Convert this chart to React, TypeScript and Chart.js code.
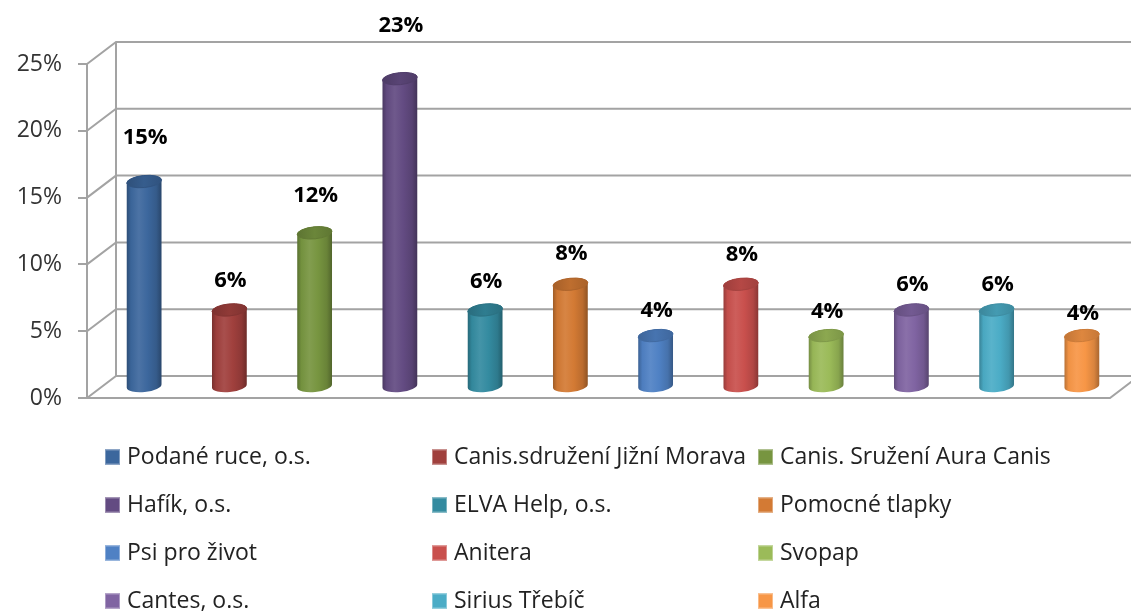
import React, { useEffect, useRef } from 'react';
import { Chart, registerables } from 'chart.js';

Chart.register(...registerables);

const categories = [
  'Podané ruce, o.s.',
  'Canis.sdružení Jižní Morava',
  'Canis. Sružení Aura Canis',
  'Hafík, o.s.',
  'ELVA Help, o.s.',
  'Pomocné tlapky',
  'Psi pro život',
  'Anitera',
  'Svopap',
  'Cantes, o.s.',
  'Sirius Třebíč',
  'Alfa',
];

const values = [15.38, 5.77, 11.54, 23.08, 5.77, 7.69, 3.85, 7.69, 3.85, 5.77, 5.77, 3.85];
const valueLabels = ['15%', '6%', '12%', '23%', '6%', '8%', '4%', '8%', '4%', '6%', '6%', '4%'];
const colors = [
  '#3C679D', '#A0403D', '#779540', '#634B82', '#348BA0', '#D37A34',
  '#4F81C4', '#C9504D', '#9BBB59', '#8064A2', '#4BACC6', '#F79646',
];
const yTickValues = [0, 5, 10, 15, 20, 25];

const DEPTH_X = 29;
const DEPTH_Y = -22;
const GRID_COLOR = '#A3A3A3';

function shade(hex: string, f: number): string {
  const n = parseInt(hex.slice(1), 16);
  let r = (n >> 16) & 255, g = (n >> 8) & 255, b = n & 255;
  if (f < 0) {
    r = r * (1 + f); g = g * (1 + f); b = b * (1 + f);
  } else {
    r = r + (255 - r) * f; g = g + (255 - g) * f; b = b + (255 - b) * f;
  }
  return `rgb(${Math.round(r)},${Math.round(g)},${Math.round(b)})`;
}

function drawCylinder(ctx: CanvasRenderingContext2D, cx: number, ty: number, by: number, w: number, color: string) {
  const rx = w / 2;
  const ry = 6;
  const rot = -0.1;
  const c = Math.cos(rot), s = Math.sin(rot);
  const grad = ctx.createLinearGradient(cx - rx, 0, cx + rx, 0);
  grad.addColorStop(0, shade(color, -0.25));
  grad.addColorStop(0.12, shade(color, -0.03));
  grad.addColorStop(0.35, shade(color, 0.08));
  grad.addColorStop(0.6, color);
  grad.addColorStop(0.85, shade(color, -0.12));
  grad.addColorStop(1, shade(color, -0.32));
  ctx.beginPath();
  ctx.moveTo(cx - rx * c, ty - rx * s);
  ctx.lineTo(cx - rx * c, by - rx * s);
  ctx.ellipse(cx, by, rx, ry, rot, Math.PI, 0, true);
  ctx.lineTo(cx + rx * c, ty + rx * s);
  ctx.ellipse(cx, ty, rx, ry, rot, 0, Math.PI, true);
  ctx.closePath();
  ctx.fillStyle = grad;
  ctx.fill();

  const tg = ctx.createLinearGradient(cx - rx, 0, cx + rx, 0);
  tg.addColorStop(0, shade(color, -0.22));
  tg.addColorStop(0.5, shade(color, -0.1));
  tg.addColorStop(1, shade(color, -0.2));
  ctx.beginPath();
  ctx.ellipse(cx, ty, rx, ry, rot, 0, Math.PI * 2);
  ctx.fillStyle = tg;
  ctx.fill();
  ctx.lineWidth = 1;
  ctx.strokeStyle = shade(color, -0.18);
  ctx.stroke();
}

const wallPlugin = {
  id: 'wall3d',
  beforeDatasetsDraw(chart: any) {
    const { ctx, chartArea, scales } = chart;
    const { left, right, bottom } = chartArea;
    const y = scales.y;
    ctx.save();
    ctx.strokeStyle = GRID_COLOR;
    ctx.lineWidth = 2;
    yTickValues.forEach((v) => {
      const py = y.getPixelForValue(v);
      ctx.beginPath();
      ctx.moveTo(left, py);
      ctx.lineTo(left + DEPTH_X, py + DEPTH_Y);
      ctx.lineTo(chart.width + 50, py + DEPTH_Y);
      ctx.stroke();
    });
    const topPx = y.getPixelForValue(yTickValues[yTickValues.length - 1]);
    ctx.beginPath();
    ctx.moveTo(left + DEPTH_X, topPx + DEPTH_Y);
    ctx.lineTo(left + DEPTH_X, bottom + DEPTH_Y);
    ctx.stroke();
    ctx.beginPath();
    ctx.moveTo(left, bottom);
    ctx.lineTo(right, bottom);
    ctx.lineTo(right + DEPTH_X, bottom + DEPTH_Y);
    ctx.stroke();
    ctx.restore();
  },
  afterDatasetsDraw(chart: any) {
    const { ctx } = chart;
    const meta = chart.getDatasetMeta(0);
    ctx.save();
    meta.data.forEach((bar: any, i: number) => {
      const cx = bar.x + DEPTH_X / 2;
      const ty = bar.y + DEPTH_Y / 2;
      const by = bar.base + DEPTH_Y / 2;
      drawCylinder(ctx, cx, ty, by, bar.width, colors[i]);
    });
    ctx.font = 'bold 22px "Open Sans"';
    ctx.textAlign = 'center';
    ctx.textBaseline = 'middle';
    ctx.fillStyle = '#000000';
    meta.data.forEach((bar: any, i: number) => {
      const cx = bar.x + DEPTH_X / 2;
      const ty = bar.y + DEPTH_Y / 2;
      const gap = 22 + 1.4 * values[i] - 0.5 * i;
      ctx.fillText(valueLabels[i], cx + 1, ty - gap);
    });
    ctx.restore();
  },
  afterDraw(chart: any) {
    const { ctx } = chart;
    ctx.save();
    ctx.font = '23px "Open Sans"';
    ctx.textAlign = 'left';
    ctx.textBaseline = 'middle';
    const colX = [105, 432, 758];
    const rowY0 = 457;
    const rowStep = 48;
    const box = 15;
    categories.forEach((name, i) => {
      const col = i % 3;
      const row = Math.floor(i / 3);
      const x = colX[col];
      const cy = rowY0 + row * rowStep;
      ctx.fillStyle = colors[i];
      ctx.fillRect(x, cy - box / 2, box, box);
      ctx.strokeStyle = shade(colors[i], 0.35);
      ctx.lineWidth = 1;
      ctx.strokeRect(x + 0.5, cy - box / 2 + 0.5, box - 1, box - 1);
      ctx.fillStyle = '#222222';
      ctx.fillText(name, x + box + 7, cy);
    });
    ctx.restore();
  },
};

export default function App() {
  const ref = useRef<HTMLCanvasElement | null>(null);
  useEffect(() => {
    if (!ref.current) return;
    const chart = new Chart(ref.current, {
      type: 'bar',
      data: {
        labels: categories,
        datasets: [
          {
            data: values,
            backgroundColor: 'rgba(0,0,0,0)',
            borderWidth: 0,
            barPercentage: 0.41,
            categoryPercentage: 1,
          },
        ],
      },
      options: {
        animation: false,
        responsive: false,
        devicePixelRatio: 1,
        layout: { padding: { top: 64, bottom: 213, left: 0, right: 21 } },
        plugins: {
          legend: { display: false },
          tooltip: { enabled: false },
        },
        scales: {
          x: { display: false },
          y: {
            min: 0,
            max: 25,
            afterFit: (scale: any) => {
              scale.width = 87;
            },
            ticks: {
              stepSize: 5,
              padding: 16,
              color: '#333333',
              font: { family: 'Open Sans', size: 23 },
              callback: (v: any) => `${v}%`,
            },
            grid: {
              drawOnChartArea: false,
              drawTicks: true,
              tickLength: 9,
              color: GRID_COLOR,
              lineWidth: 2,
            },
            border: { display: true, color: GRID_COLOR, width: 2 },
          },
        },
      },
      plugins: [wallPlugin],
    } as any);
    return () => chart.destroy();
  }, []);
  return (
    <div style={{ position: 'absolute', left: 0, top: 0, width: 1131, height: 611, background: '#fff' }}>
      <canvas ref={ref} width={1131} height={611} style={{ display: 'block' }} />
    </div>
  );
}
